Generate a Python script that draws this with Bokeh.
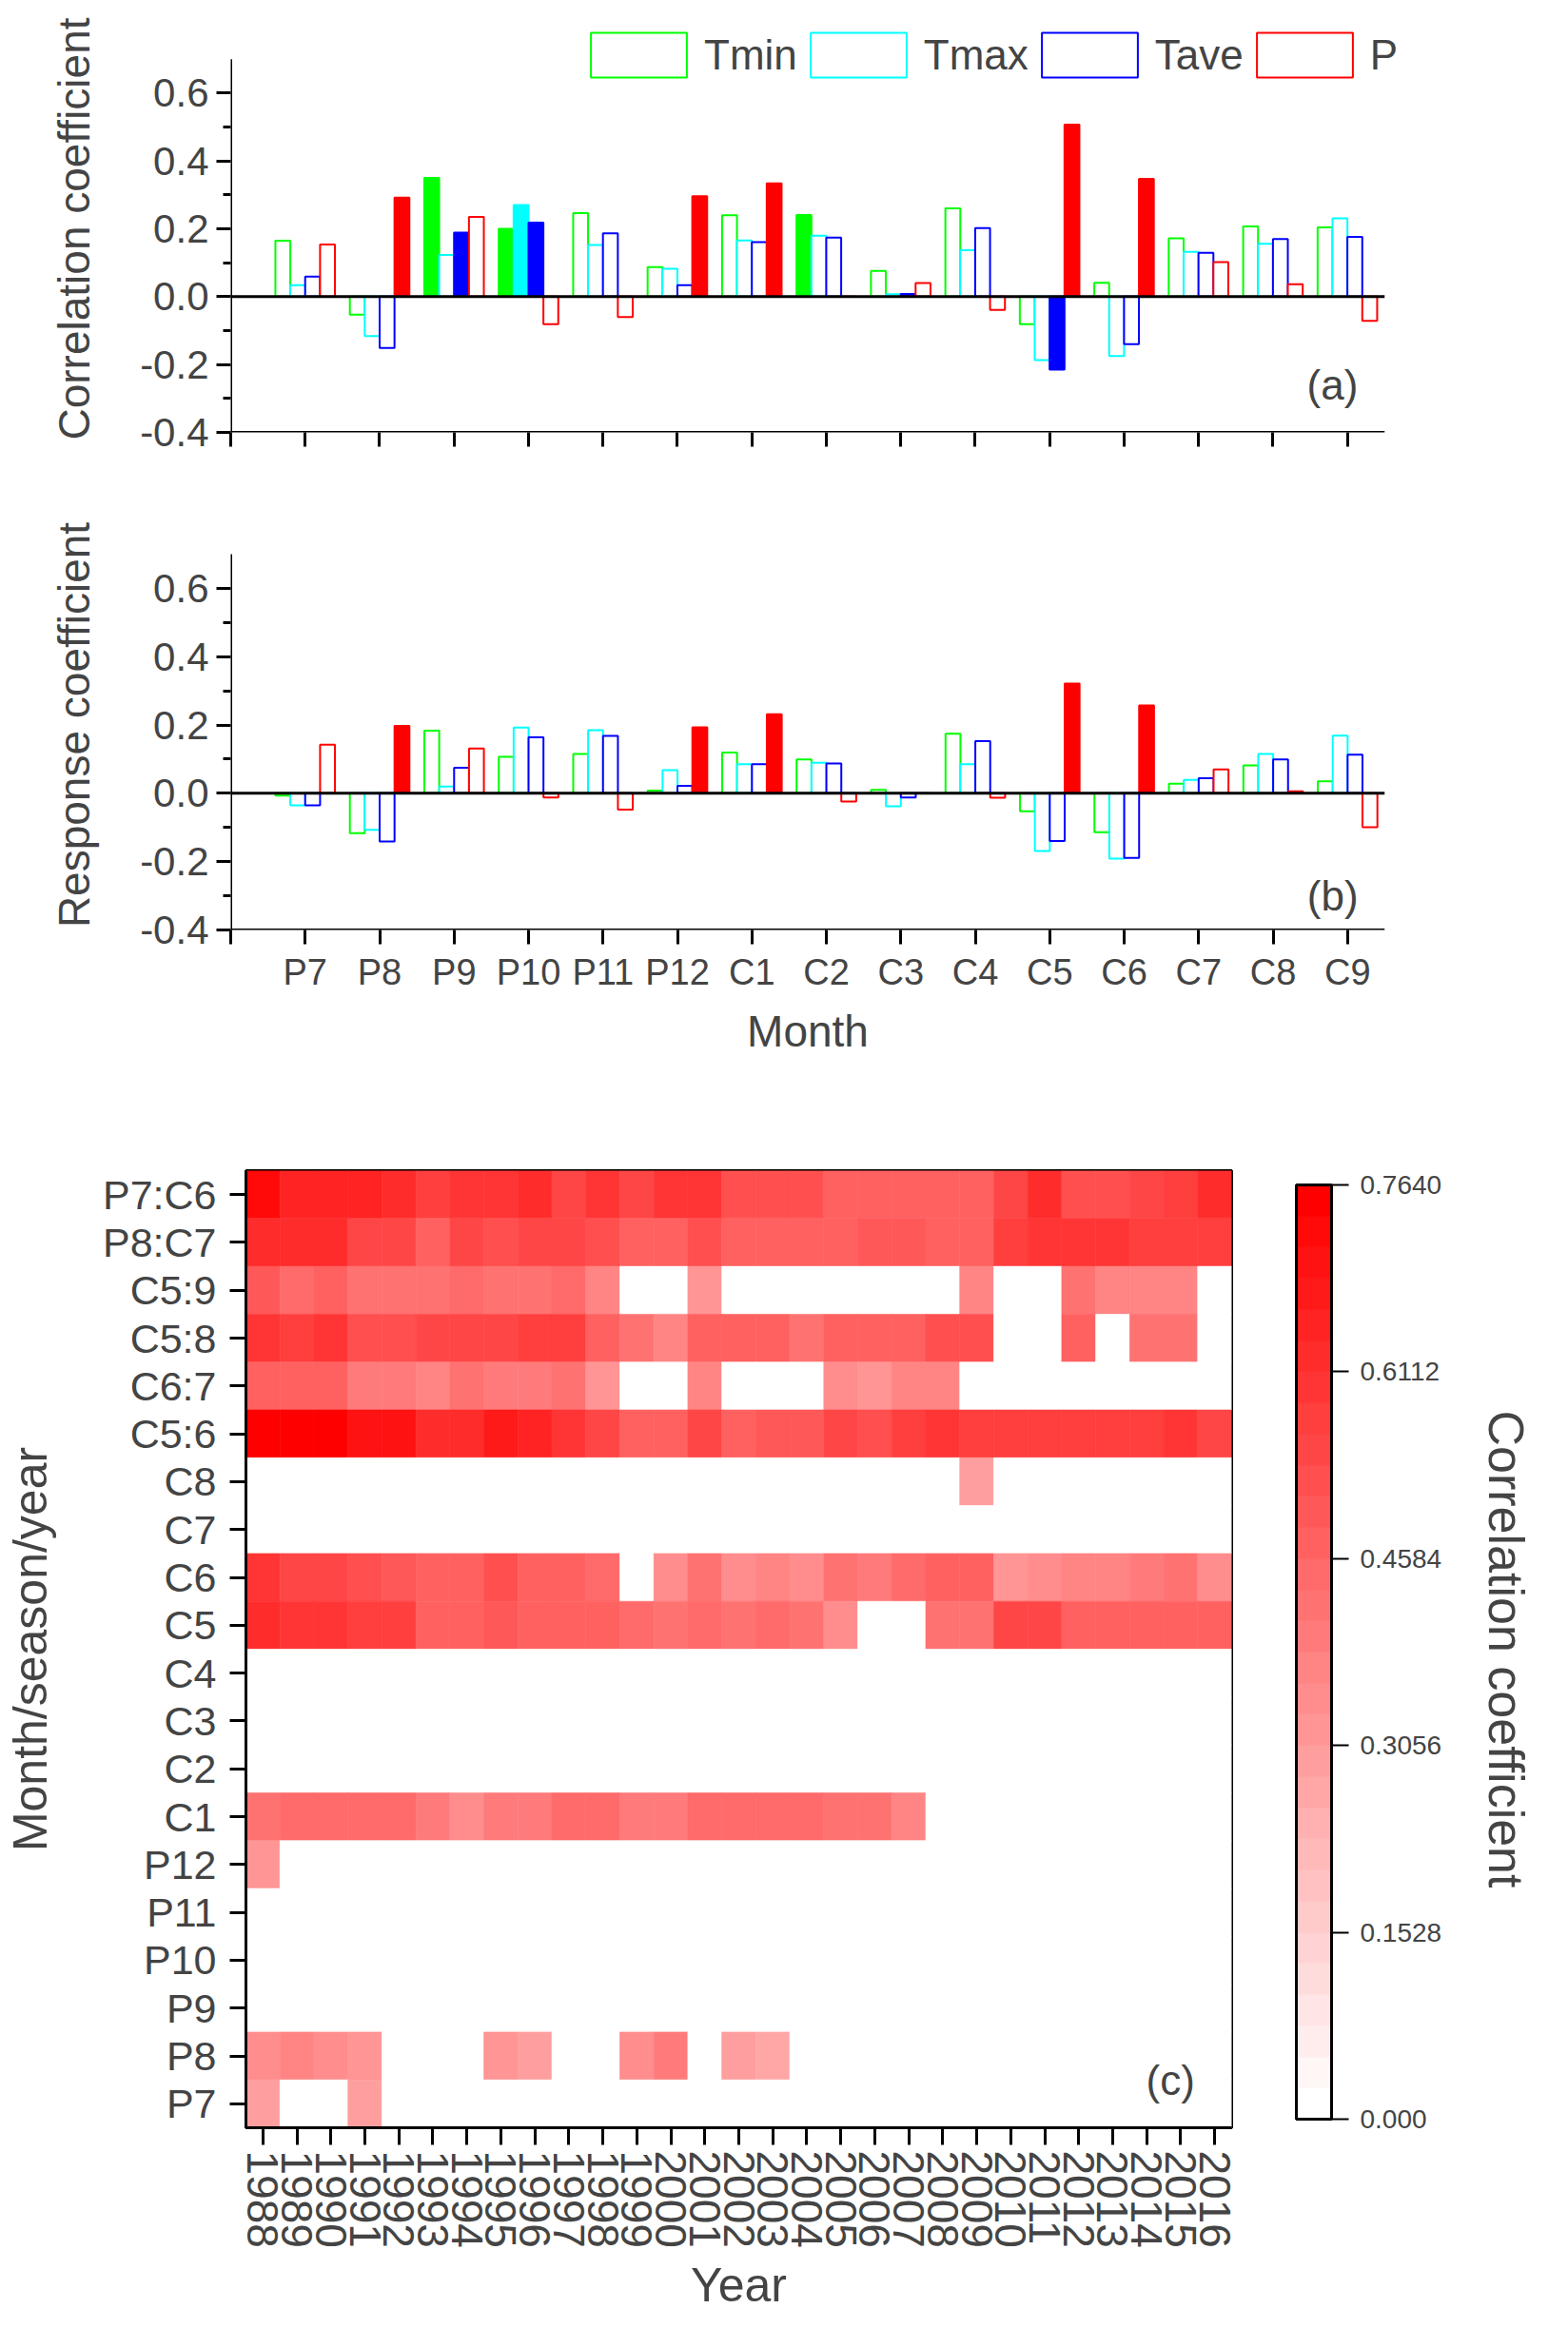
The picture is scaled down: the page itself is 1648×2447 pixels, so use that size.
from bokeh.plotting import figure
from bokeh.models import (ColumnDataSource, FixedTicker, Arrow, Label, Legend,
                          LegendItem, LinearColorMapper, ColorBar, Title, FactorRange,
                          Range1d, NumeralTickFormatter)
from bokeh.layouts import column
from bokeh.embed import file_html
from bokeh.resources import INLINE

FONT = "Liberation Sans"

months = ["P7", "P8", "P9", "P10", "P11", "P12", "C1", "C2", "C3",
          "C4", "C5", "C6", "C7", "C8", "C9"]
series_names = ["Tmin", "Tmax", "Tave", "P"]
series_colors = ["#00ff00", "#00ffff", "#0000ff", "#ff0000"]

# (a) correlation coefficients
corr_tmin = [0.165, -0.053, 0.350, 0.200, 0.246, 0.087, 0.240, 0.241, 0.076, 0.260, -0.081, 0.041, 0.172, 0.207, 0.204]
corr_tmax = [0.034, -0.116, 0.123, 0.270, 0.152, 0.082, 0.166, 0.180, 0.007, 0.137, -0.187, -0.175, 0.132, 0.156, 0.231]
corr_tave = [0.059, -0.151, 0.189, 0.218, 0.187, 0.034, 0.161, 0.174, 0.008, 0.202, -0.215, -0.140, 0.129, 0.170, 0.176]
corr_p = [0.154, 0.292, 0.235, -0.081, -0.060, 0.296, 0.334, 0.000, 0.040, -0.039, 0.507, 0.347, 0.102, 0.037, -0.071]
# significant (filled) bars
corr_sig_tmin = [0, 0, 1, 1, 0, 0, 0, 1, 0, 0, 0, 0, 0, 0, 0]
corr_sig_tmax = [0, 0, 0, 1, 0, 0, 0, 0, 0, 0, 0, 0, 0, 0, 0]
corr_sig_tave = [0, 0, 1, 1, 0, 0, 0, 0, 1, 0, 1, 0, 0, 0, 0]
corr_sig_p = [0, 1, 0, 0, 0, 1, 1, 0, 0, 0, 1, 1, 0, 0, 0]

# (b) response coefficients
resp_tmin = [-0.007, -0.117, 0.183, 0.107, 0.115, 0.008, 0.119, 0.099, 0.010, 0.174, -0.053, -0.114, 0.028, 0.082, 0.035]
resp_tmax = [-0.035, -0.107, 0.020, 0.192, 0.185, 0.068, 0.085, 0.089, -0.038, 0.085, -0.169, -0.191, 0.039, 0.115, 0.169]
resp_tave = [-0.035, -0.141, 0.075, 0.164, 0.168, 0.022, 0.085, 0.087, -0.012, 0.153, -0.140, -0.189, 0.044, 0.099, 0.113]
resp_p = [0.142, 0.197, 0.131, -0.012, -0.048, 0.193, 0.231, -0.024, 0.000, -0.013, 0.321, 0.257, 0.070, 0.006, -0.099]
resp_sig_tmin = [0, 0, 0, 0, 0, 0, 0, 0, 0, 0, 0, 0, 0, 0, 0]
resp_sig_tmax = [0, 0, 0, 0, 0, 0, 0, 0, 0, 0, 0, 0, 0, 0, 0]
resp_sig_tave = [0, 0, 0, 0, 0, 0, 0, 0, 0, 0, 0, 0, 0, 0, 0]
resp_sig_p = [0, 1, 0, 0, 0, 1, 1, 0, 0, 0, 1, 1, 0, 0, 0]

# (c) moving correlations, 1988-2016
years = list(range(1988, 2017))
row_labels = ["P7:C6", "P8:C7", "C5:9", "C5:8", "C6:7", "C5:6", "C8", "C7", "C6", "C5",
              "C4", "C3", "C2", "C1", "P12", "P11", "P10", "P9", "P8", "P7"]
r_P7C6 = [0.72, 0.66, 0.66, 0.64, 0.63, 0.57, 0.59, 0.59, 0.62, 0.56, 0.59, 0.56, 0.59, 0.59, 0.51,
          0.51, 0.51, 0.48, 0.48, 0.48, 0.48, 0.48, 0.56, 0.63, 0.51, 0.51, 0.56, 0.57, 0.62]
r_P8C7 = [0.63, 0.63, 0.63, 0.56, 0.56, 0.48, 0.56, 0.53, 0.55, 0.55, 0.51, 0.48, 0.48, 0.51, 0.47,
          0.46, 0.46, 0.46, 0.50, 0.50, 0.48, 0.46, 0.57, 0.60, 0.60, 0.60, 0.57, 0.57, 0.57]
r_C59 = [0.50, 0.45, 0.46, 0.43, 0.43, 0.43, 0.45, 0.42, 0.42, 0.45, 0.36, 0, 0, 0.33, 0,
         0, 0, 0, 0, 0, 0, 0.36, 0, 0, 0.41, 0.37, 0.37, 0.36, 0]
r_C58 = [0.60, 0.57, 0.60, 0.51, 0.51, 0.56, 0.56, 0.56, 0.57, 0.57, 0.46, 0.42, 0.38, 0.48, 0.46,
         0.46, 0.43, 0.46, 0.46, 0.48, 0.51, 0.51, 0, 0, 0.46, 0, 0.43, 0.43, 0]
r_C67 = [0.48, 0.46, 0.46, 0.40, 0.40, 0.36, 0.43, 0.40, 0.40, 0.41, 0.31, 0, 0, 0.36, 0,
         0, 0, 0.35, 0.32, 0.38, 0.36, 0, 0, 0, 0, 0, 0, 0, 0]
r_C56 = [0.76, 0.74, 0.74, 0.70, 0.70, 0.63, 0.63, 0.67, 0.64, 0.60, 0.56, 0.48, 0.48, 0.56, 0.47,
         0.50, 0.50, 0.56, 0.51, 0.57, 0.61, 0.565, 0.565, 0.565, 0.565, 0.565, 0.565, 0.60, 0.56]
r_C8 = [0, 0, 0, 0, 0, 0, 0, 0, 0, 0, 0, 0, 0, 0, 0,
        0, 0, 0, 0, 0, 0, 0.285, 0, 0, 0, 0, 0, 0, 0]
r_C7 = [0, 0, 0, 0, 0, 0, 0, 0, 0, 0, 0, 0, 0, 0, 0,
        0, 0, 0, 0, 0, 0, 0, 0, 0, 0, 0, 0, 0, 0]
r_C6 = [0.595, 0.557, 0.557, 0.51, 0.49, 0.47, 0.47, 0.51, 0.47, 0.47, 0.45, 0, 0.356, 0.41, 0.356,
        0.38, 0.356, 0.43, 0.40, 0.45, 0.48, 0.47, 0.33, 0.34, 0.37, 0.37, 0.40, 0.42, 0.356]
r_C5 = [0.63, 0.595, 0.595, 0.57, 0.57, 0.48, 0.46, 0.50, 0.48, 0.46, 0.48, 0.45, 0.41, 0.45, 0.42,
        0.45, 0.43, 0.356, 0, 0, 0.43, 0.43, 0.55, 0.55, 0.48, 0.48, 0.46, 0.46, 0.48]
r_C4 = [0, 0, 0, 0, 0, 0, 0, 0, 0, 0, 0, 0, 0, 0, 0,
        0, 0, 0, 0, 0, 0, 0, 0, 0, 0, 0, 0, 0, 0]
r_C3 = [0, 0, 0, 0, 0, 0, 0, 0, 0, 0, 0, 0, 0, 0, 0,
        0, 0, 0, 0, 0, 0, 0, 0, 0, 0, 0, 0, 0, 0]
r_C2 = [0, 0, 0, 0, 0, 0, 0, 0, 0, 0, 0, 0, 0, 0, 0,
        0, 0, 0, 0, 0, 0, 0, 0, 0, 0, 0, 0, 0, 0]
r_C1 = [0.42, 0.45, 0.45, 0.45, 0.45, 0.40, 0.356, 0.40, 0.40, 0.45, 0.45, 0.40, 0.40, 0.45, 0.45,
        0.45, 0.45, 0.42, 0.43, 0.38, 0, 0, 0, 0, 0, 0, 0, 0, 0]
r_P12 = [0.33, 0, 0, 0, 0, 0, 0, 0, 0, 0, 0, 0, 0, 0, 0,
         0, 0, 0, 0, 0, 0, 0, 0, 0, 0, 0, 0, 0, 0]
r_P11 = [0, 0, 0, 0, 0, 0, 0, 0, 0, 0, 0, 0, 0, 0, 0,
         0, 0, 0, 0, 0, 0, 0, 0, 0, 0, 0, 0, 0, 0]
r_P10 = [0, 0, 0, 0, 0, 0, 0, 0, 0, 0, 0, 0, 0, 0, 0,
         0, 0, 0, 0, 0, 0, 0, 0, 0, 0, 0, 0, 0, 0]
r_P9 = [0, 0, 0, 0, 0, 0, 0, 0, 0, 0, 0, 0, 0, 0, 0,
        0, 0, 0, 0, 0, 0, 0, 0, 0, 0, 0, 0, 0, 0]
r_P8 = [0.35, 0.37, 0.356, 0.33, 0, 0, 0, 0.33, 0.285, 0, 0, 0.345, 0.39, 0, 0.285,
        0.27, 0, 0, 0, 0, 0, 0, 0, 0, 0, 0, 0, 0, 0]
r_P7 = [0.285, 0, 0, 0.285, 0, 0, 0, 0, 0, 0, 0, 0, 0, 0, 0,
        0, 0, 0, 0, 0, 0, 0, 0, 0, 0, 0, 0, 0, 0]
heat_rows = [r_P7C6, r_P8C7, r_C59, r_C58, r_C67, r_C56, r_C8, r_C7, r_C6, r_C5,
             r_C4, r_C3, r_C2, r_C1, r_P12, r_P11, r_P10, r_P9, r_P8, r_P7]
cbar_ticks = [0.0, 0.1528, 0.3056, 0.4584, 0.6112, 0.764]
cbar_tick_labels = ["0.000", "0.1528", "0.3056", "0.4584", "0.6112", "0.7640"]

X_END = 15.5  # right end of the drawn x axis line


def axis_line(p, x0, y0, x1, y1):
    p.add_layout(Arrow(end=None, x_start=x0, y_start=y0, x_end=x1, y_end=y1,
                       line_color="black", line_width=3))


def bar_panel(height, top_border, bottom_border, ylabel, values, sigs, tag, tag_y,
              show_labels, with_legend):
    # with a legend, the frame runs one unit past the axis end to give it room
    extra = 1.0 if with_legend else 0.0
    p = figure(width=1648, height=height, x_range=Range1d(0, X_END + extra),
               y_range=Range1d(-0.4, 0.8), output_backend="svg", toolbar_location=None,
               min_border_left=242, min_border_right=115 if with_legend else 193,
               min_border_top=top_border, min_border_bottom=bottom_border,
               frame_align=False)
    p.grid.visible = False
    p.outline_line_color = None
    p.background_fill_color = None

    # bars: one renderer per series, filled where significant
    renderers = []
    for k, (vals, sig, color) in enumerate(zip(values, sigs, series_colors)):
        off = -0.3 + 0.2 * k
        src = ColumnDataSource(dict(
            x=[i + 1 + off for i in range(len(months))],
            top=vals,
            fill=[color if s else "white" for s in sig],
        ))
        r = p.vbar(x="x", top="top", bottom=0, width=0.2, source=src,
                   fill_color="fill", line_color=color, line_width=2)
        renderers.append(r)

    axis_line(p, 0, 0, X_END, 0)          # zero line
    axis_line(p, 0, -0.4, 0, 0.7)         # y axis
    axis_line(p, 0, -0.4, X_END, -0.4)    # x axis

    xa = p.xaxis[0]
    xa.ticker = FixedTicker(ticks=list(range(16)))
    overrides = {0: ""}
    for i, m in enumerate(months):
        overrides[i + 1] = m if show_labels else ""
    xa.major_label_overrides = overrides
    xa.axis_line_color = None
    xa.major_tick_in = 0
    xa.major_tick_out = 15
    xa.major_tick_line_width = 3
    xa.minor_tick_line_color = None
    xa.major_label_text_font = FONT
    xa.major_label_text_font_size = "38px"
    xa.major_label_standoff = 8
    if show_labels:
        xa.axis_label = "Month"
        xa.axis_label_text_font = FONT
        xa.axis_label_text_font_size = "46px"
        xa.axis_label_text_font_style = "normal"
        xa.axis_label_standoff = 12

    ya = p.yaxis[0]
    ya.ticker = FixedTicker(ticks=[-0.4, -0.2, 0.0, 0.2, 0.4, 0.6],
                            minor_ticks=[-0.3, -0.1, 0.1, 0.3, 0.5])
    ya.formatter = NumeralTickFormatter(format="0.0")
    ya.axis_line_color = None
    ya.major_tick_in = 0
    ya.major_tick_out = 15
    ya.minor_tick_in = 0
    ya.minor_tick_out = 8
    ya.major_tick_line_width = 3
    ya.minor_tick_line_width = 3
    ya.major_label_text_font = FONT
    ya.major_label_text_font_size = "42px"
    ya.major_label_standoff = 8
    ya.axis_label = ylabel
    ya.axis_label_text_font = FONT
    ya.axis_label_text_font_size = "46px"
    ya.axis_label_text_font_style = "normal"
    ya.axis_label_standoff = 40

    p.add_layout(Label(x=14.8, y=tag_y, text=tag, text_align="center",
                       text_baseline="middle", text_font=FONT, text_font_size="44px"))

    if with_legend:
        items = [LegendItem(label=name, renderers=[r], index=0)
                 for name, r in zip(series_names, renderers)]
        legend = Legend(items=items, orientation="horizontal", location=(366, 367),
                        glyph_width=126, glyph_height=59, label_standoff=6, spacing=1,
                        padding=0, margin=0, border_line_color=None,
                        background_fill_alpha=0, label_text_font=FONT,
                        label_text_font_size="44px")
        p.add_layout(legend)
    return p


pa = bar_panel(500, 26, 46, "Correlation coefficient",
               [corr_tmin, corr_tmax, corr_tave, corr_p],
               [corr_sig_tmin, corr_sig_tmax, corr_sig_tave, corr_sig_p],
               "(a)", -0.26, False, True)
pb = bar_panel(620, 46, 143, "Response coefficient",
               [resp_tmin, resp_tmax, resp_tave, resp_p],
               [resp_sig_tmin, resp_sig_tmax, resp_sig_tave, resp_sig_p],
               "(b)", -0.30, True, False)

# heat map of moving correlations
n_levels = 30
palette = []
for i in range(n_levels):
    g = int(round(255 * (1 - i / (n_levels - 1))))
    palette.append("#ff%02x%02x" % (g, g))
mapper = LinearColorMapper(palette=palette, low=0.0, high=0.764)

hx, hy, hv = [], [], []
for label, row in zip(row_labels, heat_rows):
    for yr, v in zip(years, row):
        hx.append(yr)
        hy.append(label)
        hv.append(v)
heat_src = ColumnDataSource(dict(year=hx, row=hy, v=hv))

pc = figure(width=1648, height=1327, x_range=Range1d(1987.5, 2016.5),
            y_range=FactorRange(factors=list(reversed(row_labels))),
            output_backend="svg", toolbar_location=None,
            min_border_left=254, min_border_right=353, min_border_top=110,
            min_border_bottom=211, frame_align=False)
pc.grid.visible = False
pc.outline_line_color = "black"
pc.outline_line_width = 3
pc.rect(x="year", y="row", width=1, height=1, source=heat_src,
        fill_color={"field": "v", "transform": mapper},
        line_color={"field": "v", "transform": mapper}, line_width=0.6)

cx = pc.xaxis[0]
cx.ticker = FixedTicker(ticks=years)
cx.major_label_orientation = "vertical"
cx.axis_line_width = 3
cx.major_tick_in = 0
cx.major_tick_out = 18
cx.major_tick_line_width = 3
cx.minor_tick_line_color = None
cx.major_label_text_font = FONT
cx.major_label_text_font_size = "46px"
cx.major_label_standoff = 6
cx.axis_label = "Year"
cx.axis_label_text_font = FONT
cx.axis_label_text_font_size = "50px"
cx.axis_label_text_font_style = "normal"
cx.axis_label_standoff = 8

cy = pc.yaxis[0]
cy.axis_line_width = 3
cy.major_tick_in = 0
cy.major_tick_out = 17
cy.major_tick_line_width = 3
cy.major_label_text_font = FONT
cy.major_label_text_font_size = "43px"
cy.major_label_standoff = 14
cy.axis_label = "Month/season/year"
cy.axis_label_text_font = FONT
cy.axis_label_text_font_size = "50px"
cy.axis_label_text_font_style = "normal"
cy.axis_label_standoff = 45

pc.add_layout(Label(x=2014.7, y=1.0, text="(c)", text_align="center",
                    text_baseline="middle", text_font=FONT, text_font_size="44px"))

cbar = ColorBar(color_mapper=mapper, width=37, height=982, location=(68, 9),
                ticker=FixedTicker(ticks=cbar_ticks),
                major_label_overrides=dict(zip(cbar_ticks, cbar_tick_labels)),
                bar_line_color="black", bar_line_width=3,
                major_tick_in=0, major_tick_out=18, major_tick_line_color="black",
                major_tick_line_width=2, minor_tick_line_color=None,
                label_standoff=12, major_label_text_font=FONT,
                major_label_text_font_size="28px", padding=0, margin=0,
                background_fill_color=None, border_line_color=None)
pc.add_layout(cbar, "right")
pc.add_layout(Title(text="Correlation coefficient", align="center", standoff=70,
                    text_font=FONT, text_font_size="52px", text_font_style="normal"),
              "right")

layout = column(pa, pb, pc, spacing=0)
open("out.html", "w").write(file_html(layout, INLINE))
